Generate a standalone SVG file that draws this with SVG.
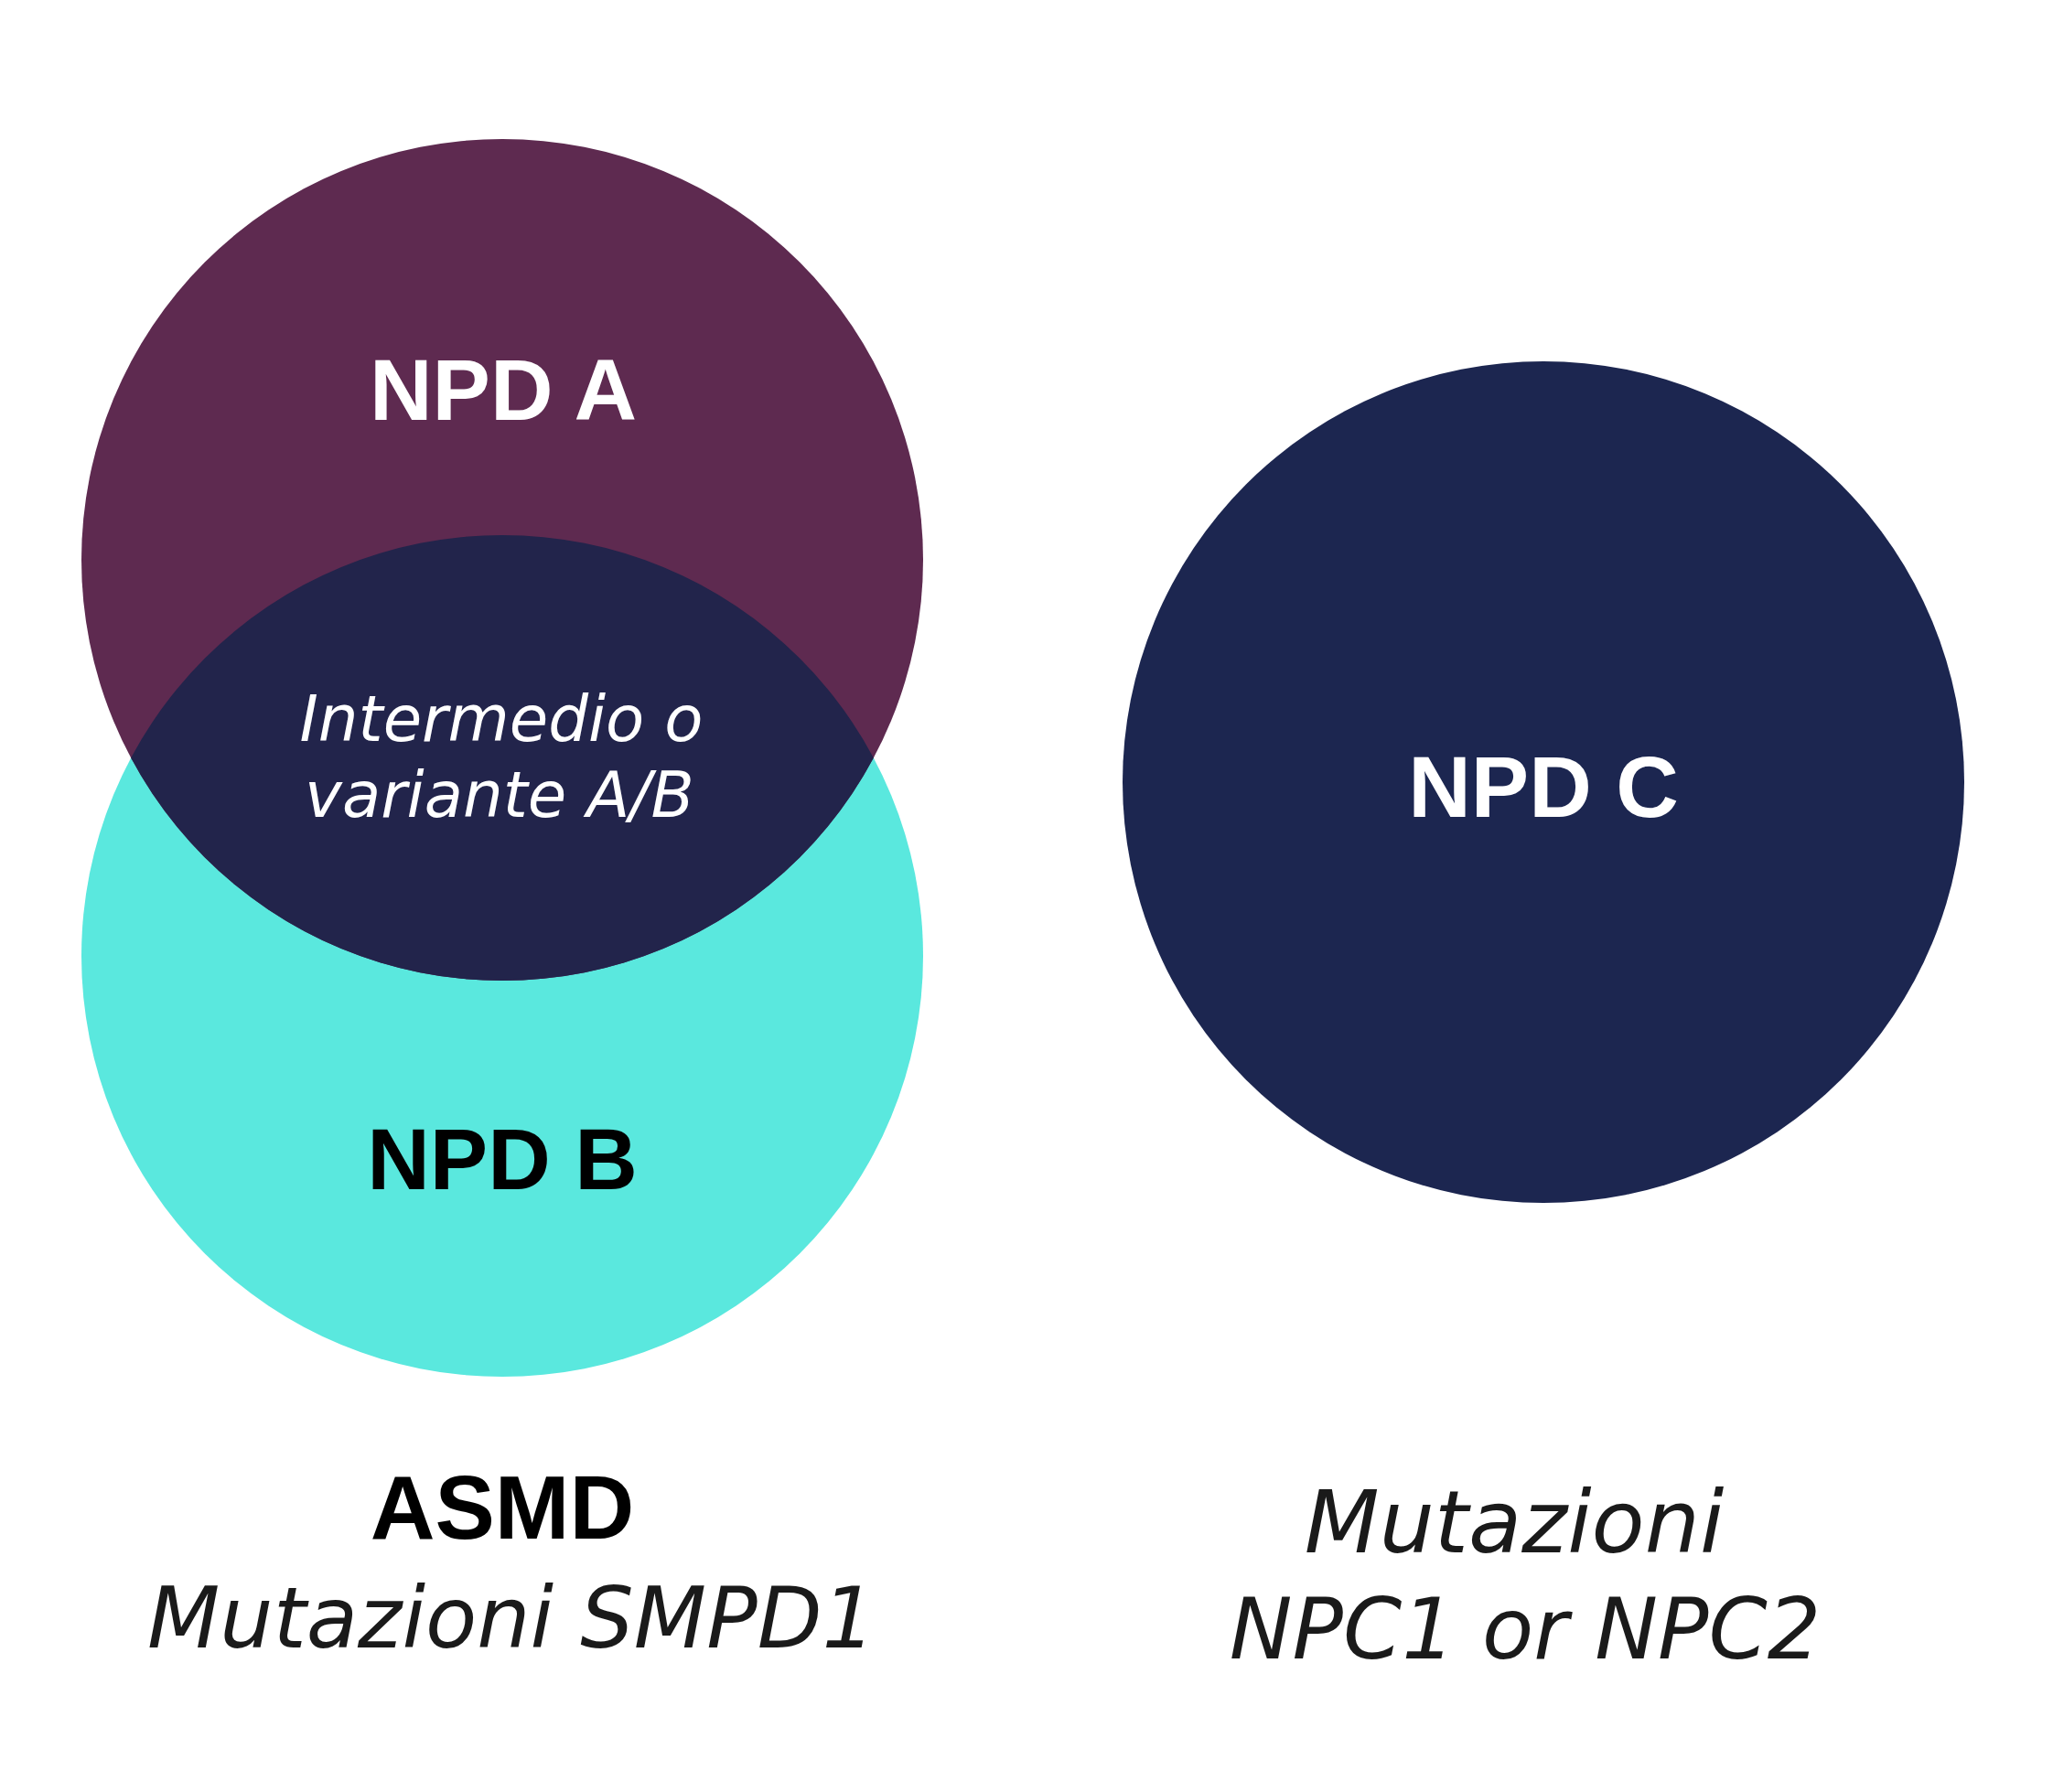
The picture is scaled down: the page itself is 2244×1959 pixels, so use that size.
<svg xmlns="http://www.w3.org/2000/svg" width="2244" height="1959" viewBox="0 0 2244 1959">
  <style>
    .bold { font-family: "Liberation Sans", Arial, sans-serif; font-weight: 700; font-size: 95px; text-anchor: middle; }
    .ital { font-family: "DejaVu Sans", "Liberation Sans", sans-serif; font-style: italic; font-weight: 400; text-anchor: middle; }
    .big { font-size: 92px; fill: #1a1a1a; }
    .mid { font-size: 69px; fill: #ffffff; }
  </style>
  <defs>
    <clipPath id="clipB">
      <circle cx="549" cy="1045" r="460"/>
    </clipPath>
  </defs>
  <rect x="0" y="0" width="2244" height="1959" fill="#ffffff"/>
  <g id="node-npd-b">
    <circle cx="549" cy="1045" r="460" fill="#5ae8de"/>
    <text class="bold" x="549" y="1300" fill="#000000">NPD B</text>
  </g>
  <g id="node-npd-a">
    <circle cx="549" cy="612" r="460" fill="#5e2a50"/>
    <text class="bold" x="550" y="459" fill="#ffffff">NPD A</text>
  </g>
  <g id="node-overlap">
    <circle cx="549" cy="612" r="460" fill="#22244b" clip-path="url(#clipB)"/>
    <text class="ital mid" x="548" y="810">Intermedio o</text>
    <text class="ital mid" x="546" y="893">variante A/B</text>
  </g>
  <g id="node-npd-c">
    <circle cx="1687" cy="855" r="460" fill="#1c2650"/>
    <text class="bold" x="1687" y="893" fill="#ffffff">NPD C</text>
  </g>
  <g id="label-asmd">
    <text class="bold" x="549" y="1682" fill="#000000" style="font-size:98px">ASMD</text>
    <text class="ital big" x="559" y="1801">Mutazioni SMPD1</text>
  </g>
  <g id="label-npc">
    <text class="ital big" x="1655" y="1697" style="font-size:95px">Mutazioni</text>
    <text class="ital big" x="1667" y="1813">NPC1 or NPC2</text>
  </g>
  <g id="connectors"></g>
</svg>
